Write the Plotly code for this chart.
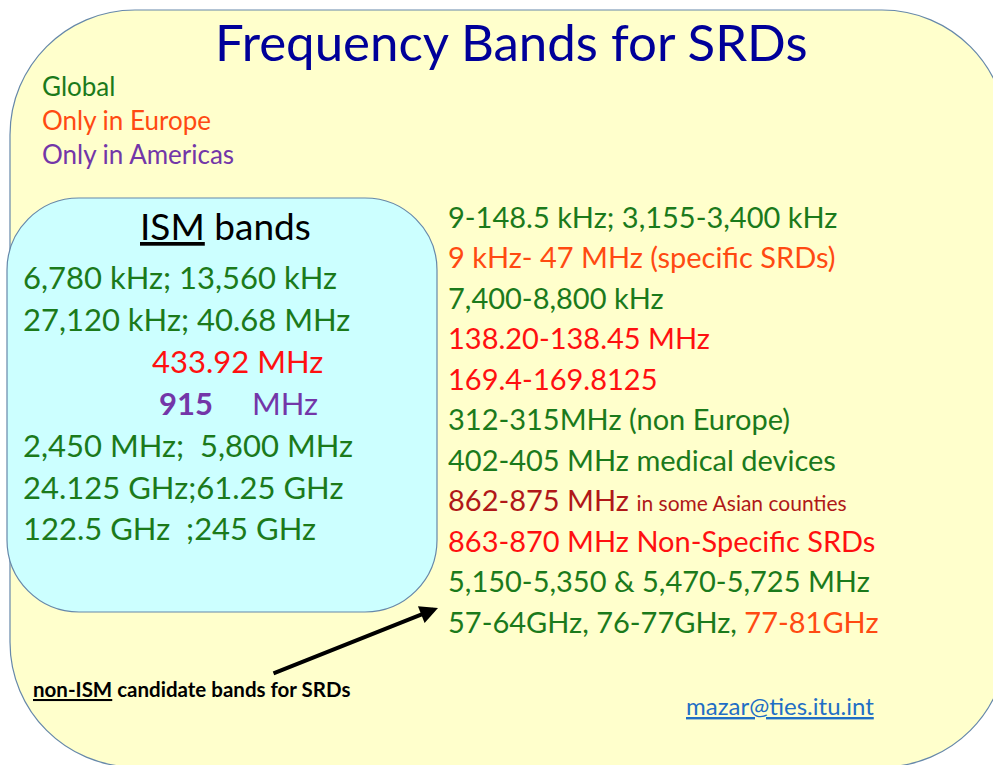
import plotly.graph_objects as go

W, H = 993, 765
FONT = "Lato"

GREEN = "#1B7A1B"
EUR = "#FF4A12"
RED = "#FF1010"
DARKRED = "#B01818"
PURPLE = "#7336A8"

title = "Frequency Bands for SRDs"
legend_labels = ["Global", "Only in Europe", "Only in Americas"]
legend_colors = [GREEN, EUR, PURPLE]

ism_lines = [
    "6,780 kHz; 13,560 kHz",
    "27,120 kHz; 40.68 MHz",
    "433.92 MHz",
    "<b>915</b>",
    "2,450 MHz;  5,800 MHz",
    "24.125 GHz;61.25 GHz",
    "122.5 GHz  ;245 GHz",
]
ism_colors = [GREEN, GREEN, RED, PURPLE, GREEN, GREEN, GREEN]
ism_indent = [0, 0, 129, 136, 0, 0, 0]
ism_unit_915 = "MHz"

srd_lines = [
    "9-148.5 kHz; 3,155-3,400 kHz",
    "9 kHz- 47 MHz (specific SRDs)",
    "7,400-8,800 kHz",
    "138.20-138.45 MHz",
    "169.4-169.8125",
    "312-315MHz (non Europe)",
    "402-405 MHz medical devices",
    "862-875 MHz <span style='font-size:21px'>in some Asian counties</span>",
    "863-870 MHz Non-Specific SRDs",
    "5,150-5,350 & 5,470-5,725 MHz",
    "57-64GHz, 76-77GHz, <span style='color:" + EUR + "'>77-81GHz</span>",
]
srd_colors = [GREEN, EUR, GREEN, RED, RED, GREEN, GREEN, DARKRED, RED, GREEN, GREEN]


def rrect(x0, y0, x1, y1, r):
    k = 0.5523 * r
    return (f"M {x0+r},{y0} L {x1-r},{y0} C {x1-r+k},{y0} {x1},{y0+r-k} {x1},{y0+r} "
            f"L {x1},{y1-r} C {x1},{y1-r+k} {x1-r+k},{y1} {x1-r},{y1} "
            f"L {x0+r},{y1} C {x0+r-k},{y1} {x0},{y1-r+k} {x0},{y1-r} "
            f"L {x0},{y0+r} C {x0},{y0+r-k} {x0+r-k},{y0} {x0+r},{y0} Z")


fig = go.Figure()
fig.add_trace(go.Scatter(x=[0, W], y=[0, H], mode="markers", marker=dict(opacity=0), hoverinfo="skip", showlegend=False))

fig.add_shape(type="path", path=rrect(10, 10, 1007, 767, 125), xref="x", yref="y",
              fillcolor="#FFFFCC", line=dict(color="#6688AA", width=1.2), layer="below")
fig.add_shape(type="path", path=rrect(7, 198, 437, 612, 72), xref="x", yref="y",
              fillcolor="#CCFFFF", line=dict(color="#6688AA", width=1.2), layer="below")

ann = []
ann.append(dict(x=511, y=41, text=title, font=dict(size=51, color="#000099", family=FONT),
                xanchor="center", yanchor="middle"))
for i, (t, c) in enumerate(zip(legend_labels, legend_colors)):
    ann.append(dict(x=40, y=86 + i * 34, text=t, font=dict(size=26, color=c, family=FONT),
                    xanchor="left", yanchor="middle"))

ann.append(dict(x=225, y=225, text="<u>ISM</u> bands", font=dict(size=37, color="#000000", family=FONT),
                xanchor="center", yanchor="middle"))
for i, (t, c, d) in enumerate(zip(ism_lines, ism_colors, ism_indent)):
    ann.append(dict(x=21 + d, y=277 + i * 41.9, text=t, font=dict(size=31, color=c, family=FONT),
                    xanchor="left", yanchor="middle"))
ann.append(dict(x=250, y=277 + 3 * 41.9, text=ism_unit_915, font=dict(size=31, color=PURPLE, family=FONT),
                xanchor="left", yanchor="middle"))

for i, (t, c) in enumerate(zip(srd_lines, srd_colors)):
    ann.append(dict(x=446, y=216 + i * 40.5, text=t, font=dict(size=29, color=c, family=FONT),
                    xanchor="left", yanchor="middle"))

ann.append(dict(x=438, y=608, ax=272, ay=674, xref="x", yref="y", axref="x", ayref="y",
                text="", showarrow=True, arrowhead=2, arrowsize=0.9, arrowwidth=4, arrowcolor="#000000"))
ann.append(dict(x=31, y=689, text="<b><u>non-ISM</u> candidate bands for SRDs</b>",
                font=dict(size=20.5, color="#000000", family=FONT), xanchor="left", yanchor="middle"))
ann.append(dict(x=780, y=705, text="<u>mazar@ties.itu.int</u>",
                font=dict(size=24, color="#1F6FC5", family=FONT), xanchor="center", yanchor="middle"))

for a in ann:
    a.setdefault("xref", "x")
    a.setdefault("yref", "y")
    a.setdefault("showarrow", False)
fig.update_layout(annotations=ann)

fig.update_layout(
    width=W, height=H, margin=dict(l=0, r=0, t=0, b=0),
    paper_bgcolor="white", plot_bgcolor="white",
    xaxis=dict(range=[0, W], visible=False, fixedrange=True),
    yaxis=dict(range=[H, 0], visible=False, fixedrange=True),
    showlegend=False,
)
fig.write_html("out.html", config={"displayModeBar": False},
               post_script="document.body.style.margin='0';document.body.style.overflow='hidden';")
